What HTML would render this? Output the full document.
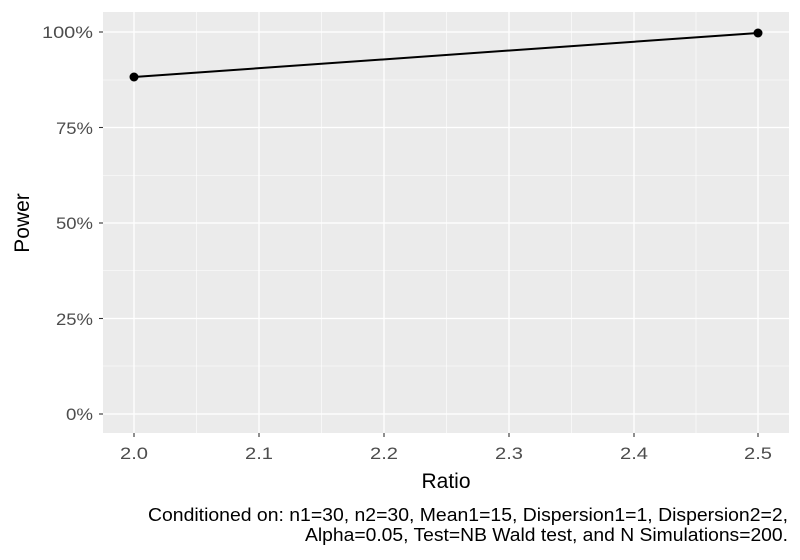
<!DOCTYPE html>
<html><head><meta charset="utf-8"><style>body{margin:0;background:#fff}svg{display:block}text{font-family:"Liberation Sans",sans-serif}</style></head>
<body>
<svg width="800" height="560" xmlns="http://www.w3.org/2000/svg">
<rect width="800" height="560" fill="#fff"/>
<rect x="103" y="12" width="686" height="421" fill="#ebebeb"/>
<g stroke="#fff" stroke-width="0.6">
<line x1="103" x2="789" y1="80" y2="80"/><line x1="103" x2="789" y1="175.5" y2="175.5"/><line x1="103" x2="789" y1="270.5" y2="270.5"/><line x1="103" x2="789" y1="366" y2="366"/>
<line y1="12" y2="433" x1="196.5" x2="196.5"/><line y1="12" y2="433" x1="321.5" x2="321.5"/><line y1="12" y2="433" x1="446.5" x2="446.5"/><line y1="12" y2="433" x1="571.5" x2="571.5"/><line y1="12" y2="433" x1="696" x2="696"/>
</g>
<g stroke="#fff" stroke-width="1.3">
<line x1="103" x2="789" y1="32" y2="32"/><line x1="103" x2="789" y1="127.5" y2="127.5"/><line x1="103" x2="789" y1="223" y2="223"/><line x1="103" x2="789" y1="318.5" y2="318.5"/><line x1="103" x2="789" y1="414" y2="414"/>
<line y1="12" y2="433" x1="134" x2="134"/><line y1="12" y2="433" x1="259" x2="259"/><line y1="12" y2="433" x1="384" x2="384"/><line y1="12" y2="433" x1="509" x2="509"/><line y1="12" y2="433" x1="634" x2="634"/><line y1="12" y2="433" x1="758" x2="758"/>
</g>
<g stroke="#333" stroke-width="1.1">
<line x1="99" x2="103" y1="32" y2="32"/><line x1="99" x2="103" y1="127.5" y2="127.5"/><line x1="99" x2="103" y1="223" y2="223"/><line x1="99" x2="103" y1="318.5" y2="318.5"/><line x1="99" x2="103" y1="414" y2="414"/>
<line y1="433" y2="437" x1="134" x2="134"/><line y1="433" y2="437" x1="259" x2="259"/><line y1="433" y2="437" x1="384" x2="384"/><line y1="433" y2="437" x1="509" x2="509"/><line y1="433" y2="437" x1="634" x2="634"/><line y1="433" y2="437" x1="758" x2="758"/>
</g>
<g fill="#4d4d4d" font-size="17">
<text x="42" y="38" textLength="51" lengthAdjust="spacingAndGlyphs">100%</text>
<text x="56" y="134" textLength="37" lengthAdjust="spacingAndGlyphs">75%</text>
<text x="56" y="229" textLength="37" lengthAdjust="spacingAndGlyphs">50%</text>
<text x="56" y="325" textLength="37" lengthAdjust="spacingAndGlyphs">25%</text>
<text x="66" y="420" textLength="27" lengthAdjust="spacingAndGlyphs">0%</text>
</g>
<g fill="#4d4d4d" font-size="17">
<text x="120" y="459" textLength="28" lengthAdjust="spacingAndGlyphs">2.0</text>
<text x="245" y="459" textLength="28" lengthAdjust="spacingAndGlyphs">2.1</text>
<text x="370" y="459" textLength="28" lengthAdjust="spacingAndGlyphs">2.2</text>
<text x="495" y="459" textLength="28" lengthAdjust="spacingAndGlyphs">2.3</text>
<text x="620" y="459" textLength="28" lengthAdjust="spacingAndGlyphs">2.4</text>
<text x="744" y="459" textLength="28" lengthAdjust="spacingAndGlyphs">2.5</text>
</g>
<line x1="134" y1="77" x2="758" y2="33" stroke="#000" stroke-width="2"/>
<circle cx="134" cy="77" r="4.5" fill="#000"/><circle cx="758" cy="33" r="4.5" fill="#000"/>
<text x="446" y="488" font-size="21" text-anchor="middle">Ratio</text>
<text transform="translate(29,223) rotate(-90)" font-size="21" text-anchor="middle">Power</text>
<g font-size="18">
<text x="148" y="521" textLength="640" lengthAdjust="spacingAndGlyphs">Conditioned on: n1=30, n2=30, Mean1=15, Dispersion1=1, Dispersion2=2,</text>
<text x="305" y="541" textLength="483" lengthAdjust="spacingAndGlyphs">Alpha=0.05, Test=NB Wald test, and N Simulations=200.</text>
</g>
</svg>
</body></html>
